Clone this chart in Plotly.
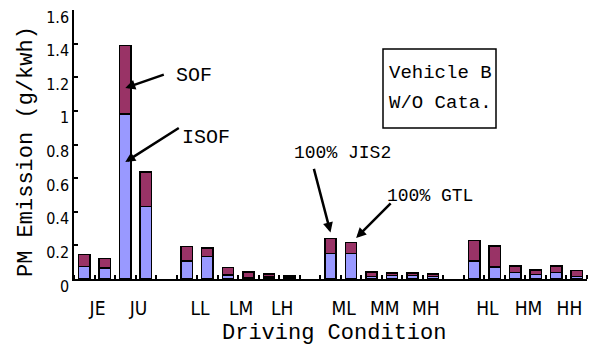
import plotly.graph_objects as go

# Driving conditions, two test runs each
groups = ["JE", "JU", "LL", "LM", "LH", "ML", "MM", "MH", "HL", "HM", "HH"]
# an empty slot follows these groups on the x axis
section_ends = ["JU", "LH", "MH"]

# PM emission split (g/kWh), run 1 and run 2 of each condition
isof = [0.073, 0.064, 0.980, 0.430, 0.107, 0.133, 0.024, 0.010, 0.012, 0.006,
        0.153, 0.153, 0.014, 0.020, 0.020, 0.015, 0.107, 0.070, 0.040, 0.028,
        0.040, 0.014]
sof = [0.074, 0.059, 0.410, 0.205, 0.085, 0.050, 0.043, 0.033, 0.018, 0.012,
       0.089, 0.065, 0.028, 0.016, 0.016, 0.015, 0.121, 0.126, 0.037, 0.026,
       0.037, 0.038]

y_ticks = [0, 0.2, 0.4, 0.6, 0.8, 1.0, 1.2, 1.4, 1.6]

# slot positions for each bar, leaving a blank slot between sections
xpos, centers = [], []
slot = 0
for g in groups:
    xpos += [slot, slot + 1]
    centers.append(slot + 0.5)
    slot += 2
    if g in section_ends:
        slot += 1
n_slots = slot

BLUE = "#9999FF"
MAROON = "#993366"
MONO = "Liberation Mono, DejaVu Sans Mono, monospace"
NARROW = "Liberation Sans Narrow, DejaVu Sans Condensed, Arial Narrow, sans-serif"

fig = go.Figure()
fig.add_bar(x=xpos, y=isof, name="ISOF", width=0.55,
            marker=dict(color=BLUE, line=dict(color="black", width=1.5)))
fig.add_bar(x=xpos, y=sof, name="SOF", width=0.55,
            marker=dict(color=MAROON, line=dict(color="black", width=1.5)))

# plot-area geometry in pixels, used to place free text
L, R, T, B = 74, 587, 10, 279
def px(x, y):
    return (x - L) / (R - L), (B - y) / (B - T)

annotations = []
def text(x, y, s, size, font=MONO, angle=0, xanchor="center"):
    xp, yp = px(x, y)
    annotations.append(dict(x=xp, y=yp, xref="paper", yref="paper", text=s,
                            showarrow=False, textangle=angle, xanchor=xanchor,
                            yanchor="middle",
                            font=dict(family=font, size=size, color="black")))

def arrow(x, y, ax, ay):
    annotations.append(dict(x=x, y=y, xref="x", yref="y", ax=ax, ay=ay,
                            text="", showarrow=True, arrowhead=2, arrowsize=0.8,
                            arrowwidth=2.5, arrowcolor="black"))

ju = groups.index("JU") * 2
ml = groups.index("ML") * 2
arrow(xpos[ju], isof[ju] + 0.38 * sof[ju], 40, -14)
arrow(xpos[ju], 0.71 * isof[ju], 55, -35)
arrow(xpos[ml], isof[ml] + sof[ml] + 0.035, -17, -65)
arrow(xpos[ml + 1] + 0.25, isof[ml + 1] + sof[ml + 1] + 0.026, 36, -36)

text(194, 75, "SOF", 20)
text(206, 137, "ISOF", 20)
text(342, 153, "100% JIS2", 18)
text(430, 196, "100% GTL", 18)
text(387, 73, "Vehicle B", 19, xanchor="left")
text(387, 103, "W/O Cata.", 19, xanchor="left")
text(334, 334, "Driving Condition", 22)
text(27, 152, "PM Emission (g/kwh)", 22, angle=-90)

bx0, by0 = px(383, 128)
bx1, by1 = px(496, 49)
fig.add_shape(type="rect", xref="paper", yref="paper", x0=bx0, y0=by0,
              x1=bx1, y1=by1, line=dict(color="black", width=1.5),
              fillcolor="rgba(0,0,0,0)")

fig.update_layout(
    width=593, height=353,
    margin=dict(l=L, r=593 - R, t=T, b=353 - B),
    barmode="stack",
    showlegend=False,
    plot_bgcolor="white", paper_bgcolor="white",
    annotations=annotations,
)
fig.update_xaxes(
    range=[-0.5, n_slots - 0.5],
    tickmode="array", tickvals=centers, ticktext=groups,
    ticks="", ticklabelstandoff=11, ticklabelshift=3,
    tickfont=dict(family=NARROW, size=19, color="black"),
    showline=True, linecolor="black", linewidth=1.5,
    showgrid=False, zeroline=False,
    minor=dict(tickmode="linear", tick0=0.5, dtick=1, ticks="inside",
               ticklen=4, tickwidth=1.5, tickcolor="black", showgrid=False),
)
fig.update_yaxes(
    range=[0, 1.6], tickmode="array", tickvals=y_ticks,
    ticktext=[f"{v:g}" for v in y_ticks],
    ticks="inside", ticklen=4, tickwidth=1.5, tickcolor="black",
    ticklabelshift=7,
    tickfont=dict(family=NARROW, size=16, color="black"),
    showline=True, linecolor="black", linewidth=1.5,
    showgrid=False, zeroline=False,
)

fig.write_html("out.html")
